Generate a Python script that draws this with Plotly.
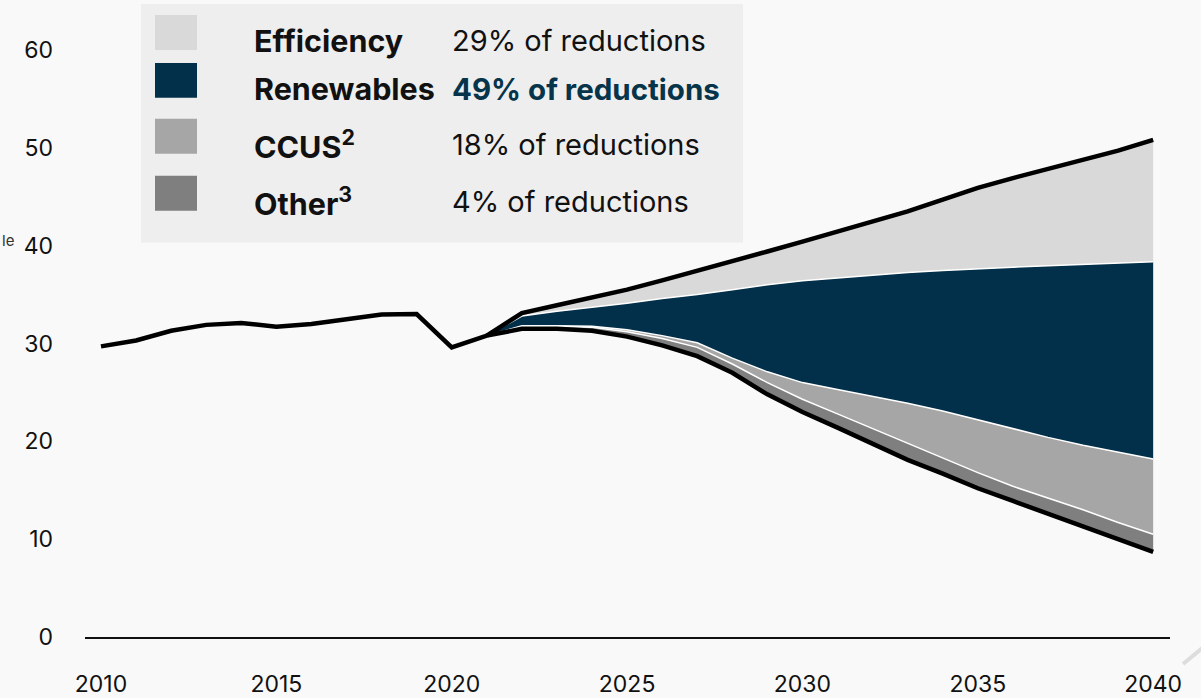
import plotly.graph_objects as go

# ---- data -------------------------------------------------------------
hist_years = list(range(2010, 2022))
hist_emissions = [29.7, 30.3, 31.3, 31.9, 32.1, 31.7, 32.0, 32.45, 32.95, 33.0, 29.6, 30.8]

proj_years = list(range(2021, 2041))
baseline = [30.8, 33.1, 33.9, 34.7, 35.5, 36.45, 37.4, 38.4, 39.4, 40.4,
            41.4, 42.4, 43.5, 44.7, 45.9, 46.9, 47.8, 48.7, 49.7, 50.8]
after_efficiency = [30.8, 32.8, 33.3, 33.7, 34.1, 34.6, 35.0, 35.5, 36.0, 36.4,
                    36.7, 37.0, 37.25, 37.45, 37.65, 37.8, 37.95, 38.1, 38.2, 38.35]
after_renewables = [30.8, 31.8, 31.8, 31.75, 31.4, 30.8, 30.07, 28.5, 27.1, 26.0,
                    25.3, 24.6, 23.9, 23.1, 22.2, 21.3, 20.4, 19.6, 18.9, 18.2]
after_ccus = [30.8, 31.75, 31.75, 31.65, 31.2, 30.5, 29.6, 27.9, 26.0, 24.3,
              22.8, 21.3, 19.85, 18.35, 16.8, 15.4, 14.2, 13.0, 11.7, 10.5]
net_pathway = [30.8, 31.5, 31.5, 31.3, 30.7, 29.8, 28.7, 27.0, 24.8, 23.0,
               21.4, 19.7, 18.1, 16.7, 15.2, 13.9, 12.6, 11.3, 10.0, 8.7]

levers = ["Efficiency", "Renewables", "CCUS<sup>2</sup>", "Other<sup>3</sup>"]
lever_shares = ["29% of reductions", "49% of reductions", "18% of reductions", "4% of reductions"]
lever_colors = ["#d9d9d9", "#02304a", "#a6a6a6", "#7f7f7f"]

x_ticks = [2010, 2015, 2020, 2025, 2030, 2035, 2040]
y_ticks = [0, 10, 20, 30, 40, 50, 60]

# ---- figure geometry -------------------------------------------------
W, H = 1201, 698
ML, MR, MT, MB = 85, 31, 0, 55
PW = W - ML - MR
PH = 638                      # drawn height of the plotting area
Y_TOP = PH / 9.8              # 9.8 px per unit
FONT = "Inter, 'Open Sans', sans-serif"


def px(x):
    return (x - ML) / PW


def py(y):
    return (PH - y) / PH


fig = go.Figure()

# stacked reduction wedges, drawn between successive boundaries
bounds = [net_pathway, after_ccus, after_renewables, after_efficiency, baseline]
fill_colors = [lever_colors[3], lever_colors[2], lever_colors[1], lever_colors[0]]
fig.add_trace(go.Scatter(x=proj_years, y=net_pathway, mode="lines",
                         line=dict(width=0), hoverinfo="skip", showlegend=False))
for upper, col in zip(bounds[1:], fill_colors):
    is_top = upper is baseline
    fig.add_trace(go.Scatter(
        x=proj_years, y=upper, mode="lines", fill="tonexty", fillcolor=col,
        line=dict(color="white", width=0 if is_top else 1.5),
        hoverinfo="skip", showlegend=False))

# emissions lines
fig.add_trace(go.Scatter(x=proj_years, y=baseline, mode="lines",
                         line=dict(color="black", width=4.5),
                         hoverinfo="skip", showlegend=False))
fig.add_trace(go.Scatter(x=hist_years + proj_years[1:],
                         y=hist_emissions + net_pathway[1:], mode="lines",
                         line=dict(color="black", width=4.5),
                         hoverinfo="skip", showlegend=False))

# ---- legend panel ----------------------------------------------------
shapes = [dict(type="rect", xref="paper", yref="paper",
               x0=px(141), x1=px(743), y0=py(243), y1=py(4),
               fillcolor="#eeeeee", line=dict(width=0), layer="below")]
annotations = []
rows_y = [41, 89, 145, 202]
for i, (name, share, col) in enumerate(zip(levers, lever_shares, lever_colors)):
    yc = rows_y[i]
    shapes.append(dict(type="rect", xref="paper", yref="paper",
                       x0=px(155), x1=px(197), y0=py(yc + 9), y1=py(yc - 26),
                       fillcolor=col, line=dict(width=0)))
    annotations.append(dict(xref="paper", yref="paper", x=px(252), y=py(yc),
                            xanchor="left", yanchor="middle", showarrow=False,
                            text=f"<b>{name}</b>",
                            font=dict(family=FONT, size=30.5, color="#111111")))
    bold = i == 1
    annotations.append(dict(xref="paper", yref="paper", x=px(450), y=py(yc),
                            xanchor="left", yanchor="middle", showarrow=False,
                            text=f"<b>{share}</b>" if bold else share,
                            font=dict(family=FONT, size=29.5 if bold else 29,
                                      color="#06344a" if bold else "#111111")))

annotations.append(dict(xref="paper", yref="paper", x=px(16), y=py(241),
                        xanchor="right", yanchor="middle", showarrow=False,
                        text="le", font=dict(family=FONT, size=15, color="#333333")))

# faint stroke at the lower-right edge
shapes.append(dict(type="line", xref="paper", yref="paper",
                   x0=px(1183), y0=py(665), x1=px(1212), y1=py(641),
                   line=dict(color="#dddddd", width=4)))

fig.update_layout(
    width=W, height=H,
    margin=dict(l=ML, r=MR, t=MT, b=MB),
    paper_bgcolor="#f9f9f9", plot_bgcolor="#f9f9f9",
    font=dict(family=FONT, size=23, color="#111111"),
    shapes=shapes, annotations=annotations,
    xaxis=dict(range=[2009.544, 2040.48], tickvals=x_ticks, showgrid=False,
               zeroline=False, showline=True, linecolor="#111111", linewidth=1.5,
               ticks="", ticklabelstandoff=26, fixedrange=True),
    yaxis=dict(range=[0, Y_TOP], tickvals=y_ticks, showgrid=False, zeroline=False,
               showline=False, ticks="", ticklabelstandoff=31, fixedrange=True),
    hovermode=False,
)

fig.write_html("out.html", config={"displayModeBar": False})
